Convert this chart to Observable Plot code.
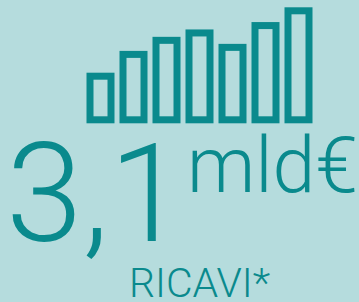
<!DOCTYPE html>
<html>
<head>
<meta charset="utf-8">
<script src="https://cdn.jsdelivr.net/npm/d3@7"></script>
<script src="https://cdn.jsdelivr.net/npm/@observablehq/plot@0.6"></script>
<style>
  html, body { margin: 0; padding: 0; background: #b5dcdd; }
  #chart svg { display: block; background: #b5dcdd; }
</style>
</head>
<body>
<div id="chart"></div>
<script>
const years = ["A1", "A2", "A3", "A4", "A5", "A6", "A7"];
const revenues = [1.24, 1.86, 2.26, 2.47, 2.06, 2.68, 3.1];
const bigValue = "3,1";
const unitLabel = "mld€";
const caption = "RICAVI*";

const data = years.map((y, i) => ({year: y, value: revenues[i]}));
const teal = "#0a8a8d";
const font = "Roboto, 'Helvetica Neue', Arial, sans-serif";

const chart = Plot.plot({
  width: 359,
  height: 302,
  marginLeft: 88.5,
  marginRight: 47.5,
  marginTop: 10.8,
  marginBottom: 182.2,
  style: {background: "#b5dcdd", overflow: "visible"},
  x: {domain: years, paddingInner: 0.356, paddingOuter: 0, axis: null},
  y: {domain: [0, 3.1], axis: null},
  marks: [
    Plot.barY(data, {x: "year", y: "value", fill: "none", stroke: teal, strokeWidth: 7}),
    Plot.text([bigValue], {text: d => d, frameAnchor: "bottom-left", textAnchor: "start", lineAnchor: "bottom",
      dx: -83, dy: 120.2, fontSize: 138, fontWeight: 300, fill: teal, fontFamily: font}),
    Plot.text([unitLabel], {text: d => d, frameAnchor: "bottom-left", textAnchor: "start", lineAnchor: "bottom",
      dx: 98, dy: 72, fontSize: 77, fontWeight: 300, fill: teal, fontFamily: font}),
    Plot.text([caption], {text: d => d, frameAnchor: "bottom-left", textAnchor: "start", lineAnchor: "bottom",
      dx: 40, dy: 177, fontSize: 41, fontWeight: 300, fill: teal, fontFamily: font, letterSpacing: -0.8})
  ]
});
document.getElementById("chart").append(chart);
</script>
</body>
</html>
